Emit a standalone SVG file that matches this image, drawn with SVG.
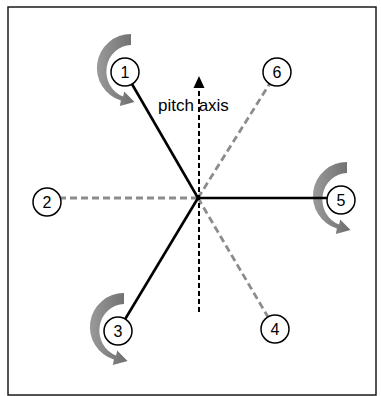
<svg xmlns="http://www.w3.org/2000/svg" width="381" height="396" viewBox="0 0 381 396">
  <style>
    .frame { fill: #ffffff; stroke: #1a1a1a; stroke-width: 1.5; }
    .solid { stroke: #000000; stroke-width: 2.6; fill: none; }
    .dash { stroke: #8c8c8c; stroke-width: 2.8; stroke-dasharray: 7 4; fill: none; }
    .axis { stroke: #000000; stroke-width: 2; stroke-dasharray: 5 3; fill: none; }
    .node circle { fill: #ffffff; stroke: #000000; stroke-width: 1.5; }
    .node text { font-family: "Liberation Sans", Arial, sans-serif; font-size: 16px; fill: #000000; text-anchor: middle; }
    .label { font-family: "Liberation Sans", Arial, sans-serif; font-size: 17px; fill: #000000; }
    .spin { fill: url(#spinFill); }
  </style>
  <defs>
    <linearGradient id="spinFill" x1="0" y1="0" x2="1" y2="0">
      <stop offset="0" stop-color="#9a9a9a"/>
      <stop offset="1" stop-color="#6e6e6e"/>
    </linearGradient>
    <!-- curved rotation arrow, drawn around a node centre at (0,0) -->
    <path id="spin" d="M6,-38 A34 34 0 0 0 -4.1,28.5 L-5.2,34 L9.5,30 L-0.8,19.5 L-1.9,24.5 A25 26.5 0 0 1 6,-27 Z"/>
  </defs>

  <rect class="frame" x="8" y="7" width="368" height="388"/>

  <!-- rotation arrows beside nodes 1, 5 and 3 -->
  <g id="rotations">
    <use href="#spin" class="spin" transform="translate(125,72)"/>
    <use href="#spin" class="spin" transform="translate(341,200)"/>
    <use href="#spin" class="spin" transform="translate(118,331)"/>
  </g>

  <g id="connectors">
    <line class="dash" x1="198" y1="198" x2="47" y2="198"/>
    <line class="dash" x1="198" y1="198" x2="277" y2="72"/>
    <line class="dash" x1="198" y1="198" x2="275" y2="329"/>
    <line class="solid" x1="198" y1="198" x2="125" y2="72"/>
    <line class="solid" x1="198" y1="198" x2="341" y2="198"/>
    <line class="solid" x1="198" y1="198" x2="118" y2="331"/>
    <line class="axis" x1="199" y1="312" x2="199" y2="87"/>
    <path d="M193.5,88 L199,76 L204.5,88 Z" fill="#000000"/>
  </g>

  <text class="label" x="158" y="111">pitch axis</text>

  <g id="node1" class="node"><circle cx="125" cy="72" r="14"/><text x="125" y="78">1</text></g>
  <g id="node2" class="node"><circle cx="47" cy="202" r="14"/><text x="47" y="208">2</text></g>
  <g id="node3" class="node"><circle cx="118" cy="331" r="14"/><text x="118" y="337">3</text></g>
  <g id="node4" class="node"><circle cx="275" cy="329" r="14"/><text x="275" y="335">4</text></g>
  <g id="node5" class="node"><circle cx="341" cy="200" r="14"/><text x="341" y="206">5</text></g>
  <g id="node6" class="node"><circle cx="277" cy="72" r="14"/><text x="277" y="78">6</text></g>
</svg>
